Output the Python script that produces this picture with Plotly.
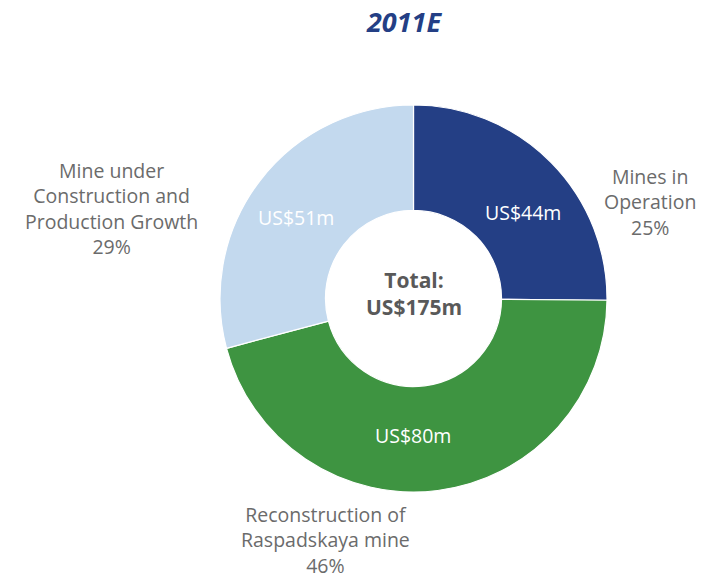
import plotly.graph_objects as go

W, H = 701, 579

labels = ["Mines in Operation", "Reconstruction of Raspadskaya mine",
          "Mine under Construction and Production Growth"]
values = [44, 80, 51]
value_text = ["US$44m", "US$80m", "US$51m"]
percents = ["25%", "46%", "29%"]
colors = ["#243F85", "#3E9441", "#C3D9EE"]
title_text = "2011E"
total_lines = ["Total:", "US$175m"]

outside_lines = [["Mines in", "Operation"],
                 ["Reconstruction of", "Raspadskaya mine"],
                 ["Mine under", "Construction and", "Production Growth"]]

cx, cy, R = 413.5, 298.5, 193.5

def px(x):
    return x / W

def py(y):
    return 1 - y / H

fig = go.Figure(go.Pie(
    labels=labels,
    values=values,
    sort=False,
    direction="clockwise",
    rotation=0,
    hole=0.455,
    marker=dict(colors=colors, line=dict(color="white", width=1.2)),
    textinfo="none",
    hoverinfo="label+value+percent",
    showlegend=False,
    domain=dict(x=[px(cx - R), px(cx + R)], y=[py(cy + R), py(cy - R)]),
))

font_family = "'Open Sans', 'Noto Sans', sans-serif"
grey = "#6b6b6b"

ann = []
# title
ann.append(dict(x=px(404), y=py(22), text="<b><i>" + title_text + "</i></b>",
                font=dict(family=font_family, size=27, color="#243F85")))
# center total
ann.append(dict(x=px(cx), y=py(293.5), text="<b>" + "<br>".join(total_lines) + "</b>",
                font=dict(family=font_family, size=21, color="#595959")))
# inside value labels
inside_pos = [(523, 212), (413, 435), (296, 218)]
for (x, y), t in zip(inside_pos, value_text):
    ann.append(dict(x=px(x), y=py(y), text=t,
                    font=dict(family=font_family, size=19.5, color="white")))
# outside labels
outside_pos = [(650, 202), (325, 540), (111, 208.5)]
for (x, y), lines, p in zip(outside_pos, outside_lines, percents):
    ann.append(dict(x=px(x), y=py(y), text="<br>".join(lines + [p]),
                    font=dict(family=font_family, size=19.5, color=grey)))

for a in ann:
    a.update(xref="paper", yref="paper", showarrow=False,
             xanchor="center", yanchor="middle", align="center")

fig.update_layout(
    width=W, height=H,
    margin=dict(l=0, r=0, t=0, b=0),
    paper_bgcolor="white",
    plot_bgcolor="white",
    annotations=ann,
)

fig.write_html(
    "out.html",
    config={"displayModeBar": False},
    post_script="document.body.style.margin='0';document.body.style.padding='0';",
)
